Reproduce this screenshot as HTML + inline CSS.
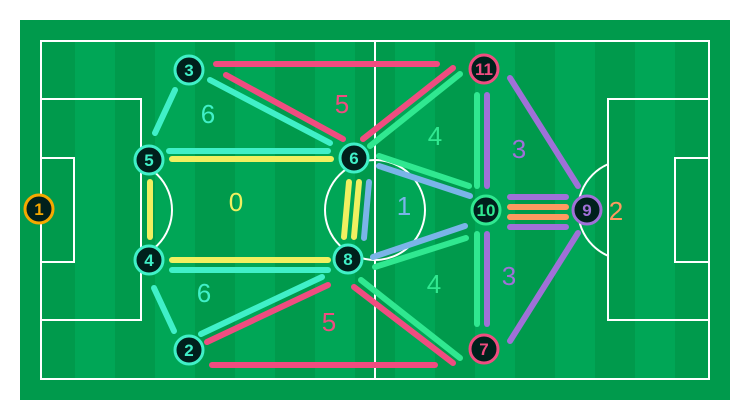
<!DOCTYPE html>
<html><head><meta charset="utf-8"><style>body{margin:0;background:#fff}svg{display:block}text{font-family:"Liberation Sans",sans-serif}</style></head><body>
<svg width="750" height="420" viewBox="0 0 750 420">
<defs>
<clipPath id="cl"><rect x="141" y="0" width="100" height="420"/></clipPath>
<clipPath id="cr"><rect x="500" y="0" width="108" height="420"/></clipPath>
</defs>
<rect x="20" y="20" width="710" height="380" fill="#009a4c"/>
<g fill="#00a656">
<rect x="75" y="40" width="40" height="340"/><rect x="155" y="40" width="40" height="340"/><rect x="235" y="40" width="40" height="340"/><rect x="315" y="40" width="40" height="340"/><rect x="395" y="40" width="40" height="340"/><rect x="475" y="40" width="40" height="340"/><rect x="555" y="40" width="40" height="340"/><rect x="635" y="40" width="40" height="340"/>
</g>
<g fill="none" stroke="#fff" stroke-width="2">
<rect x="41" y="41" width="668" height="338"/>
<line x1="375" y1="41" x2="375" y2="379"/>
<circle cx="375" cy="210" r="50"/>
<path d="M41 99H141V320H41"/><path d="M41 158H74V262H41"/>
<path d="M709 99H608V320H709"/><path d="M709 158H675V262H709"/>
<circle cx="122" cy="210" r="50" clip-path="url(#cl)"/>
<circle cx="628" cy="210" r="50" clip-path="url(#cr)"/>
</g>
<g stroke-width="6" stroke-linecap="round" fill="none">
<line x1="175" y1="90" x2="155" y2="133" stroke="#40f0c8"/>
<line x1="210" y1="80" x2="330" y2="143" stroke="#40f0c8"/>
<line x1="226" y1="75" x2="343" y2="139" stroke="#f04c80"/>
<line x1="216" y1="64" x2="437" y2="64" stroke="#f04c80"/>
<line x1="169" y1="151" x2="328" y2="151" stroke="#40f0c8"/>
<line x1="172" y1="159" x2="331" y2="159" stroke="#f0f060"/>
<line x1="150" y1="182" x2="150" y2="237" stroke="#f0f060"/>
<line x1="349" y1="182" x2="344" y2="237" stroke="#f0f060"/>
<line x1="359" y1="182" x2="354" y2="237" stroke="#f0f060"/>
<line x1="369" y1="182" x2="364" y2="238" stroke="#7ab4e8"/>
<line x1="363" y1="139" x2="453" y2="68" stroke="#f04c80"/>
<line x1="370" y1="146" x2="460" y2="74" stroke="#30e890"/>
<line x1="379" y1="156" x2="469" y2="186" stroke="#30e890"/>
<line x1="379" y1="166" x2="470" y2="196" stroke="#7ab4e8"/>
<line x1="172" y1="260" x2="328" y2="260" stroke="#f0f060"/>
<line x1="172" y1="270" x2="328" y2="270" stroke="#40f0c8"/>
<line x1="154" y1="288" x2="174" y2="331" stroke="#40f0c8"/>
<line x1="201" y1="334" x2="322" y2="277" stroke="#40f0c8"/>
<line x1="207" y1="342" x2="328" y2="285" stroke="#f04c80"/>
<line x1="212" y1="365" x2="435" y2="365" stroke="#f04c80"/>
<line x1="354" y1="287" x2="453" y2="363" stroke="#f04c80"/>
<line x1="361" y1="280" x2="460" y2="358" stroke="#30e890"/>
<line x1="373" y1="257" x2="465" y2="226" stroke="#7ab4e8"/>
<line x1="375" y1="267" x2="466" y2="238" stroke="#30e890"/>
<line x1="477" y1="95" x2="477" y2="186" stroke="#30e890"/>
<line x1="487" y1="95" x2="487" y2="186" stroke="#a070d8"/>
<line x1="477" y1="234" x2="477" y2="324" stroke="#30e890"/>
<line x1="487" y1="234" x2="487" y2="324" stroke="#a070d8"/>
<line x1="510" y1="78" x2="578" y2="186" stroke="#a070d8"/>
<line x1="510" y1="197" x2="566" y2="197" stroke="#a070d8"/>
<line x1="510" y1="207" x2="566" y2="207" stroke="#ff9a60"/>
<line x1="510" y1="217" x2="566" y2="217" stroke="#ff9a60"/>
<line x1="510" y1="227" x2="566" y2="227" stroke="#a070d8"/>
<line x1="510" y1="341" x2="578" y2="233" stroke="#a070d8"/>
</g>
<g font-size="26" text-anchor="middle">
<text x="208" y="123" fill="#40f0c8">6</text>
<text x="342" y="113" fill="#f04c80">5</text>
<text x="435" y="145" fill="#30e890">4</text>
<text x="519" y="158" fill="#a070d8">3</text>
<text x="236" y="211" fill="#f0f060">0</text>
<text x="404" y="215" fill="#7ab4e8">1</text>
<text x="616" y="220" fill="#ff9a60">2</text>
<text x="204" y="302" fill="#40f0c8">6</text>
<text x="329" y="331" fill="#f04c80">5</text>
<text x="434" y="293" fill="#30e890">4</text>
<text x="509" y="285" fill="#a070d8">3</text>
</g>
<g stroke-width="3" fill="#00201c">
<g stroke="#f5a800"><circle cx="39" cy="209" r="14"/></g>
<g stroke="#40f0c8"><circle cx="189" cy="70" r="14"/><circle cx="149" cy="160" r="14"/><circle cx="149" cy="260" r="14"/><circle cx="189" cy="350" r="14"/><circle cx="354" cy="158" r="14"/><circle cx="348" cy="259" r="14"/></g>
<g stroke="#f04c80"><circle cx="484" cy="69" r="14"/><circle cx="484" cy="349" r="14"/></g>
<g stroke="#30e890"><circle cx="486" cy="210" r="14"/></g>
<g stroke="#a070d8"><circle cx="587" cy="210" r="14"/></g>
</g>
<g font-size="17" font-weight="bold" text-anchor="middle">
<text x="39" y="215" fill="#f5a800">1</text>
<text x="189" y="76" fill="#40f0c8">3</text>
<text x="149" y="166" fill="#40f0c8">5</text>
<text x="149" y="266" fill="#40f0c8">4</text>
<text x="189" y="356" fill="#40f0c8">2</text>
<text x="354" y="164" fill="#40f0c8">6</text>
<text x="348" y="265" fill="#40f0c8">8</text>
<text x="484" y="75" fill="#f04c80">11</text>
<text x="484" y="355" fill="#f04c80">7</text>
<text x="486" y="216" fill="#30e890">10</text>
<text x="587" y="216" fill="#a070d8">9</text>
</g>
</svg>
</body></html>
